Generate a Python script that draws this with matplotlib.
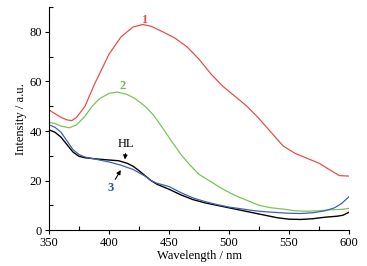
import matplotlib.pyplot as plt
from matplotlib.ticker import MultipleLocator

plt.rcParams['font.family'] = ['Liberation Serif', 'DejaVu Serif']

# curve 1 (red)
wl_1 = [350, 355, 360, 365, 369, 373, 380, 388, 395, 400, 410, 420, 428, 435, 445, 455,
        465, 475, 485, 495, 505, 515, 525, 535, 545, 555, 565, 575, 585, 592, 600]
int_1 = [48.5, 47, 45.5, 44.5, 44.2, 45.5, 50, 59, 66, 71, 78, 82, 83, 82.3, 80, 77.5,
         74, 69, 63, 58, 54, 50, 45, 39.5, 34, 31, 29, 27, 24, 22, 21.8]

# curve 2 (green)
wl_2 = [350, 355, 360, 367, 373, 380, 386, 392, 400, 407, 415, 422, 430, 437, 445, 452,
        460, 467, 475, 485, 495, 505, 515, 525, 535, 545, 555, 565, 575, 585, 595, 600]
int_2 = [43.6, 43, 42, 41.3, 42.5, 46, 50, 53, 55.2, 55.7, 54.8, 53, 50, 46.5, 41, 36,
         30.5, 26.5, 22.5, 19.5, 16.5, 14, 12, 10, 9, 8.5, 7.8, 7.6, 7.8, 8.2, 8.4, 8.8]

# HL (black)
wl_hl = [350, 355, 360, 365, 370, 375, 380, 390, 400, 408, 415, 420, 425, 430, 435, 440,
         450, 460, 470, 480, 490, 500, 510, 520, 530, 540, 550, 560, 570, 580, 590, 595, 600]
int_hl = [40.5, 39.5, 37.5, 34.5, 31.5, 29.8, 29.2, 28.7, 28.3, 28, 27, 25.8, 24, 22, 20, 18.5,
          16.5, 14.2, 12.3, 11, 10, 9, 8, 7, 6, 5, 4.4, 4.3, 4.6, 5.2, 5.6, 6, 7.2]

# curve 3 (blue)
wl_3 = [350, 355, 360, 365, 370, 375, 380, 390, 400, 410, 420, 430, 435, 440, 450, 460,
        470, 480, 490, 500, 510, 520, 530, 540, 550, 560, 570, 580, 588, 594, 600]
int_3 = [42.5, 41.5, 39.5, 36, 32.5, 30.5, 29.5, 28.5, 27.5, 26.2, 24.5, 21.8, 20, 18.9, 17.6, 15.1,
         13, 11.5, 10.3, 9.3, 8.6, 7.9, 7.4, 7.1, 6.8, 6.7, 7.0, 7.8, 9, 10.8, 13.5]

fig = plt.figure(figsize=(3.67, 2.66), dpi=100)
ax = fig.add_axes([0.1335, 0.135, 0.8175, 0.838])

ax.plot(wl_1, int_1, color='#e5504a', lw=0.9)
ax.plot(wl_2, int_2, color='#7cc35a', lw=0.9)
ax.plot(wl_hl, int_hl, color='black', lw=1.0)
ax.plot(wl_3, int_3, color='#4060b0', lw=0.9)

ax.text(429, 85, '1', color='#e5504a', fontsize=9, fontweight='bold', ha='center', va='center')
ax.text(411, 58.2, '2', color='#6ab84a', fontsize=9, fontweight='bold', ha='center', va='center')
ax.text(414, 32.5, 'HL', color='black', fontsize=9, ha='center', va='bottom')
ax.annotate('', xy=(413, 27.4), xytext=(414, 32),
            arrowprops=dict(arrowstyle='-|>', color='black', lw=0.8, mutation_scale=6))
ax.text(401, 17, '3', color='#3050a0', fontsize=9, fontweight='bold', ha='center', va='center')
ax.annotate('', xy=(411, 25.2), xytext=(404, 19.5),
            arrowprops=dict(arrowstyle='-|>', color='black', lw=0.8, mutation_scale=6))

ax.set_xlim(350, 600)
ax.set_ylim(0, 90)
ax.xaxis.set_major_locator(MultipleLocator(50))
ax.xaxis.set_minor_locator(MultipleLocator(25))
ax.yaxis.set_major_locator(MultipleLocator(20))
ax.yaxis.set_minor_locator(MultipleLocator(10))
ax.tick_params(which='major', direction='out', length=3, width=0.8, labelsize=9)
ax.tick_params(axis='x', which='major', pad=2)
ax.tick_params(axis='y', which='major', pad=2)
ax.tick_params(which='minor', direction='in', length=3, width=0.8)
ax.spines['top'].set_visible(False)
ax.spines['right'].set_visible(False)
ax.set_xlabel('Wavelength / nm', fontsize=9, labelpad=1)
ax.set_ylabel('Intensity / a.u.', fontsize=9, labelpad=2)

fig.savefig('out.png', dpi=100)
